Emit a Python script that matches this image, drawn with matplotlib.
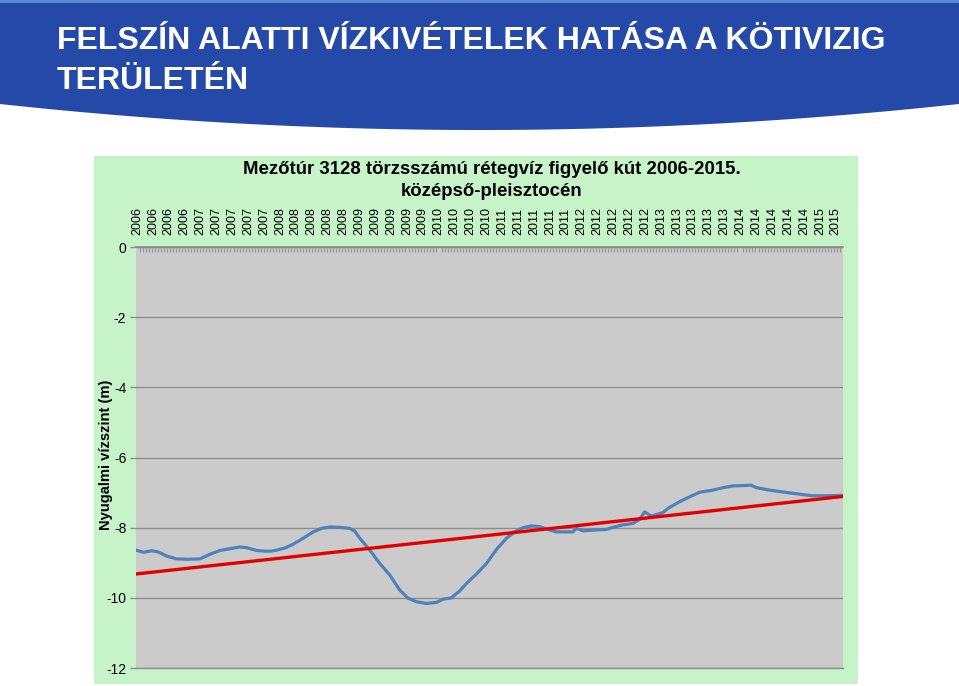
import matplotlib
matplotlib.use('Agg')

import matplotlib.pyplot as plt
import numpy as np
from matplotlib.patches import Rectangle, Polygon

plt.rcParams['font.family'] = ['Liberation Sans', 'DejaVu Sans']

# ─── Data ───────────────────────────────────────────────────────────────────
year_labels = (["2006"] * 4 + ["2007"] * 5 + ["2008"] * 5 + ["2009"] * 5 +
               ["2010"] * 4 + ["2011"] * 5 + ["2012"] * 5 + ["2013"] * 5 +
               ["2014"] * 5 + ["2015"] * 2)

# x in label-slot units (0 = first "2006" label)
level_x = [-0.06, 0.40, 0.93, 1.34, 1.87, 2.50, 3.23, 3.96, 4.59, 5.22,
           5.85, 6.48, 6.90, 7.53, 8.06, 8.48, 8.79, 9.31, 9.84, 10.47,
           11.10, 11.62, 12.15, 12.78, 13.40, 13.72, 14.03, 14.66, 15.29, 15.92,
           16.55, 17.07, 17.60, 18.23, 18.86, 19.27, 19.80, 20.33, 20.75, 21.38,
           22.01, 22.64, 23.27, 23.79, 24.31, 24.84, 25.36, 25.88, 26.41, 27.04,
           27.45, 27.67, 28.09, 28.71, 29.56, 29.97, 30.60, 31.23, 31.65, 31.97,
           32.39, 33.12, 33.44, 34.17, 34.80, 35.43, 36.27, 36.90, 37.53, 38.16,
           38.68, 39.00, 39.84, 40.47, 41.30, 42.15, 42.56, 43.40, 44.40]
level_m = [-8.64, -8.70, -8.66, -8.69, -8.81, -8.89, -8.90, -8.89, -8.76, -8.65,
           -8.60, -8.55, -8.57, -8.65, -8.67, -8.67, -8.64, -8.58, -8.47, -8.30,
           -8.12, -8.02, -7.98, -7.99, -8.02, -8.10, -8.30, -8.64, -9.02, -9.35,
           -9.78, -10.01, -10.11, -10.16, -10.13, -10.04, -10.00, -9.80, -9.59, -9.32,
           -9.02, -8.62, -8.30, -8.12, -8.00, -7.95, -7.97, -8.05, -8.12, -8.12,
           -8.12, -8.02, -8.09, -8.07, -8.05, -7.99, -7.92, -7.88, -7.76, -7.55,
           -7.67, -7.57, -7.45, -7.26, -7.12, -6.99, -6.93, -6.86, -6.81, -6.80,
           -6.79, -6.86, -6.93, -6.97, -7.02, -7.07, -7.09, -7.09, -7.08]

trend_x = [-0.06, 44.46]
trend_m = [-9.32, -7.11]

y_ticks = [0, -2, -4, -6, -8, -10, -12]

# ─── Colours ────────────────────────────────────────────────────────────────
HEADER_BLUE = "#2449A8"
PANEL_GREEN = "#C6F4C8"
PLOT_GRAY = "#CBCBCB"
GRID_GRAY = "#8E8E8E"
LINE_BLUE = "#4F81BD"
TREND_RED = "#E50000"

W, H = 959, 686
fig = plt.figure(figsize=(W / 100, H / 100), dpi=100)
fig.patch.set_facecolor("white")

# background axes in pixel coordinates
bg = fig.add_axes([0, 0, 1, 1], zorder=0)
bg.set_xlim(0, W)
bg.set_ylim(H, 0)
bg.axis("off")

# blue header with curved bottom edge
xs = np.linspace(0, W, 200)
bottom = 104 + 26 * (1 - ((xs - W / 2) / (W / 2)) ** 2)
verts = [(0, 0)] + list(zip(xs, bottom)) + [(W, 0)]
bg.add_patch(Polygon(verts, closed=True, facecolor=HEADER_BLUE, edgecolor="none"))
bg.add_patch(Rectangle((0, 0), W, 2.5, facecolor="#5B86D0", edgecolor="none"))

hdr_font = ['Liberation Sans Narrow', 'Liberation Sans', 'DejaVu Sans']
bg.text(57, 49, "FELSZÍN ALATTI VÍZKIVÉTELEK HATÁSA A KÖTIVIZIG",
        color="white", fontsize=23, fontweight="bold", family=hdr_font,
        ha="left", va="baseline")
bg.text(57, 89, "TERÜLETÉN",
        color="white", fontsize=23, fontweight="bold", family=hdr_font,
        ha="left", va="baseline")

# green chart panel
bg.add_patch(Rectangle((94, 156), 858 - 94, 684 - 156,
                       facecolor=PANEL_GREEN, edgecolor="none"))

# chart titles
bg.text(492, 170, "Mezőtúr 3128 törzsszámú rétegvíz figyelő kút 2006-2015.",
        fontsize=13.4, fontweight="bold", ha="center", va="center", color="black")
bg.text(492, 191, "középső-pleisztocén",
        fontsize=13.4, fontweight="bold", ha="center", va="center", color="black")
bg.text(106, 455, "Nyugalmi vízszint (m)", fontsize=10.6, fontweight="bold",
        rotation=90, ha="center", va="center", color="black")

# ─── Main plot ──────────────────────────────────────────────────────────────
left, right, top, bot = 136, 843, 247, 668
ax = fig.add_axes([left / W, 1 - bot / H, (right - left) / W, (bot - top) / H],
                  zorder=1)
ax.set_facecolor(PLOT_GRAY)

ax.plot(level_x, level_m, color=LINE_BLUE, linewidth=2.3,
        solid_joinstyle="round", zorder=3)
ax.plot(trend_x, trend_m, color=TREND_RED, linewidth=2.4, zorder=4)

ax.set_xlim(-0.06, 44.46)
ax.set_ylim(-12, 0)

ax.set_yticks(y_ticks)
ax.set_yticklabels([str(v) for v in y_ticks])
ax.yaxis.grid(True, color=GRID_GRAY, linewidth=1.0, zorder=1)
ax.set_axisbelow(True)
ax.tick_params(axis="y", direction="out", length=4, width=1,
               color=GRID_GRAY, pad=3, labelsize=10)

ax.xaxis.tick_top()
ax.set_xticks(np.arange(len(year_labels)))
ax.set_xticklabels(year_labels, rotation=90)
ax.tick_params(axis="x", which="major", length=0, pad=9, labelsize=9)
ax.set_xticks(np.arange(0, 44.46, 0.19), minor=True)
ax.tick_params(axis="x", which="minor", top=True, bottom=False,
               direction="in", length=3.5, width=0.9, color="#979797")

for side in ["left", "right"]:
    ax.spines[side].set_visible(False)
ax.spines["bottom"].set_color(GRID_GRAY)
ax.spines["bottom"].set_linewidth(1.0)
ax.spines["top"].set_color("#8A8A8A")
ax.spines["top"].set_linewidth(1.2)

fig.savefig("out.png", dpi=100, facecolor=fig.get_facecolor())
